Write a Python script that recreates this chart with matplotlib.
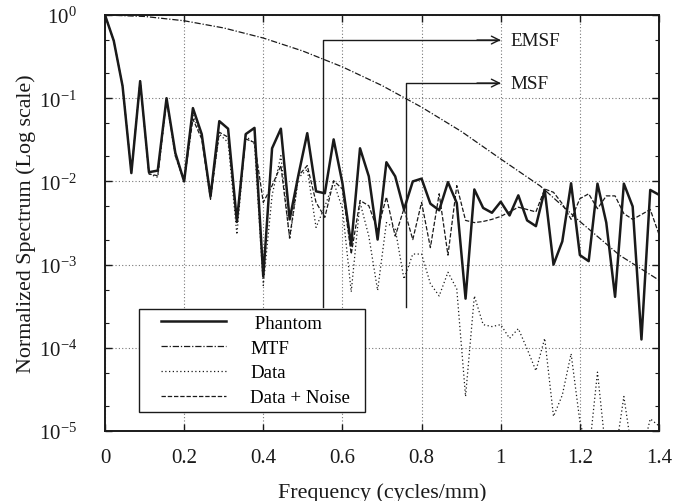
import numpy as np
import matplotlib
matplotlib.use("Agg")
import matplotlib.pyplot as plt
from matplotlib.lines import Line2D
from matplotlib.legend_handler import HandlerLine2D
from matplotlib.ticker import LogLocator, FuncFormatter, NullFormatter, MultipleLocator

plt.rcParams['font.family'] = ['Liberation Serif', 'DejaVu Serif']
plt.rcParams['mathtext.fontset'] = 'custom'
plt.rcParams['mathtext.rm'] = 'Liberation Serif'
plt.rcParams['mathtext.it'] = 'Liberation Serif:italic'

# frequency grid: 64 samples, step 1/45 cycles/mm
freq_step = 1.0 / 45
n_pts = 64

phantom = [1.0, 0.49, 0.14, 0.0126, 0.16, 0.0129, 0.0135, 0.1, 0.022, 0.010,
           0.076, 0.037, 0.0066, 0.053, 0.043, 0.0033, 0.037, 0.044, 7.2e-4, 0.025,
           0.043, 0.0035, 0.012, 0.038, 0.0076, 0.0072, 0.032, 0.0095, 0.0017, 0.025,
           0.0115, 0.002, 0.017, 0.0115, 0.0046, 0.010, 0.0108, 0.0054, 0.0045, 0.0098,
           0.0055, 3.9e-4, 0.008, 0.0048, 0.0042, 0.0057, 0.0039, 0.0068, 0.0034, 0.0029,
           0.0079, 0.001, 0.0019, 0.0095, 0.0013, 0.0011, 0.0094, 0.0032, 4.1e-4, 0.0094,
           0.005, 1.26e-4, 0.0079, 0.0069]

data = [1.0, 0.49, 0.14, 0.0129, 0.16, 0.0123, 0.0112, 0.095, 0.020, 0.0100,
        0.062, 0.0355, 0.0064, 0.037, 0.0294, 0.0023, 0.0355, 0.028, 5.6e-4, 0.0068,
        0.0204, 0.002, 0.011, 0.014, 0.0028, 0.005, 0.0098, 0.0047, 4.7e-4, 0.0056,
        0.0022, 4.9e-4, 0.0032, 0.0027, 6.7e-4, 0.00134, 0.00134, 5.9e-4, 4.2e-4, 8.1e-4,
        5.1e-4, 2.6e-5, 4.2e-4, 1.9e-4, 1.8e-4, 1.9e-4, 1.3e-4, 1.7e-4, 9.7e-5, 5.3e-5,
        1.3e-4, 1.5e-5, 2.7e-5, 8.5e-5, 1.3e-5, 5e-6, 5.1e-5, 5e-6, 5e-6, 2.6e-5,
        5e-6, 5e-6, 1.4e-5, 1.15e-5]

data_noise = [1.0, 0.49, 0.141, 0.0129, 0.162, 0.0123, 0.0117, 0.096, 0.0204, 0.0102,
              0.056, 0.0324, 0.0061, 0.039, 0.034, 0.0032, 0.0324, 0.0294, 0.0056, 0.0089,
              0.0155, 0.0021, 0.0117, 0.0155, 0.0056, 0.0037, 0.0102, 0.0081, 0.00134, 0.0059,
              0.0051, 0.0026, 0.0065, 0.0022, 0.0047, 0.002, 0.0056, 0.0016, 0.0071, 0.0013,
              0.0089, 0.0034, 0.0032, 0.0033, 0.0035, 0.0038, 0.0043, 0.0049, 0.0046, 0.0043,
              0.0081, 0.0074, 0.0054, 0.0035, 0.0062, 0.0071, 0.0047, 0.0067, 0.0067, 0.0041,
              0.0035, 0.004, 0.0046, 0.0023]

mtf_freq = [0.0, 0.1, 0.2, 0.3, 0.4, 0.5, 0.6, 0.7, 0.8, 0.9, 1.0, 1.1, 1.2, 1.3, 1.4]
mtf = [1.0, 0.961, 0.853, 0.699, 0.529, 0.369, 0.238, 0.142, 0.078, 0.040,
       0.0186, 0.0088, 0.0033, 0.0013, 6.5e-4]

emsf_x, emsf_y = 0.55, 0.5
msf_x, msf_y = 0.76, 0.152
marker_base = 3.1e-4
label_x = 1.0

freq = np.arange(n_pts) * freq_step
ink = '#1a1a1a'

fig = plt.figure(figsize=(6.87, 5.02), dpi=100)
ax = fig.add_axes([0.1528, 0.1394, 0.8065, 0.8287])

ax.plot(freq, phantom, color=ink, lw=1.8, ls='-', label=' Phantom')
ax.plot(mtf_freq, mtf, color=ink, lw=0.9, ls=(0, (5, 1.5, 1, 1.5)), label='MTF')
ax.plot(freq, data, color=ink, lw=0.9, ls=(0, (1, 2)), label='Data')
ax.plot(freq, data_noise, color=ink, lw=0.9, ls=(0, (3.5, 1.5)), label='Data + Noise')

# EMSF / MSF markers
for x0, y0, txt in [(emsf_x, emsf_y, 'EMSF'), (msf_x, msf_y, 'MSF')]:
    ax.plot([x0, x0, label_x - 0.005], [marker_base, y0, y0], color=ink, lw=1.0)
    ax.annotate('', xy=(label_x, y0), xytext=(label_x - 0.06, y0),
                arrowprops=dict(arrowstyle='->', color=ink, lw=1.0,
                                mutation_scale=14, shrinkA=0, shrinkB=0))
    ax.text(label_x + 0.025, y0, txt, fontsize=13.8, va='center', ha='left', color=ink)

ax.set_yscale('log')
ax.set_xlim(0, 1.4)
ax.set_ylim(1e-5, 1)
ax.xaxis.set_major_locator(MultipleLocator(0.2))
ax.xaxis.set_major_formatter(FuncFormatter(lambda v, p: '%g' % round(v, 2)))
ax.yaxis.set_major_locator(LogLocator(base=10, numticks=10))
ax.yaxis.set_minor_locator(LogLocator(base=10, subs=[2, 5], numticks=10))
ax.yaxis.set_minor_formatter(NullFormatter())

ax.grid(True, which='major', color='#777777', ls=(0, (1, 2)), lw=0.8)
ax.tick_params(which='both', direction='in', top=True, right=True,
               labelsize=15, colors=ink)
ax.tick_params(axis='x', pad=12)
ax.tick_params(axis='y', pad=20)
ax.tick_params(which='major', length=5, width=1)
ax.tick_params(which='minor', length=3, width=0.8)
for s in ax.spines.values():
    s.set_linewidth(1.4)
    s.set_color(ink)

ax.set_xlabel('Frequency (cycles/mm)', fontsize=15.8, color=ink, labelpad=11)
ax.set_ylabel('Normalized Spectrum (Log scale)', fontsize=15.8, color=ink, labelpad=2)

leg = ax.legend(loc='lower left', bbox_to_anchor=(0.061, 0.046, 0.408, 0.24),
                mode='expand', borderaxespad=0,
                fontsize=13.6, handlelength=4.34, fancybox=False, framealpha=1,
                edgecolor=ink, labelspacing=0.4, handletextpad=1.27,
                borderpad=0.3,
                handler_map={Line2D: HandlerLine2D(xpad=0.9)})
leg.get_frame().set_linewidth(1.0)

fig.savefig('out.png', dpi=100)
